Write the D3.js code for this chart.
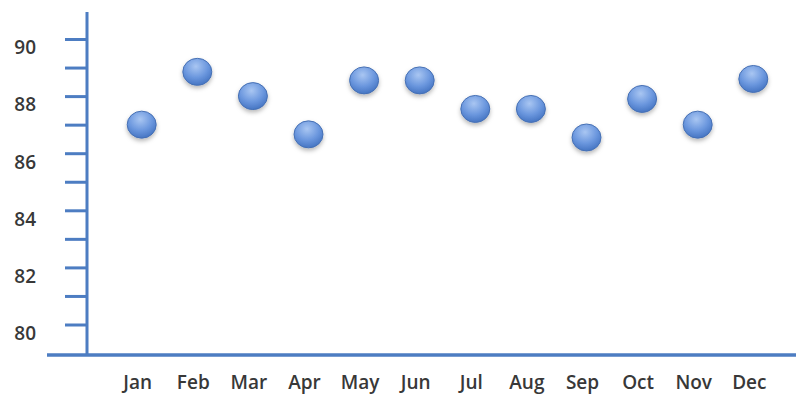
<!DOCTYPE html>
<html>
<head>
<meta charset="utf-8">
<script src="https://cdn.jsdelivr.net/npm/d3@7"></script>
<style>
  html, body { margin: 0; padding: 0; background: #fff; }
  svg { display: block; }
  .lbl { font-family: "Open Sans", sans-serif; font-weight: 600; font-size: 19px; fill: #383838; }
</style>
</head>
<body>
<svg id="chart" width="796" height="395"></svg>
<script>
// Monthly readings
const months = ["Jan", "Feb", "Mar", "Apr", "May", "Jun", "Jul", "Aug", "Sep", "Oct", "Nov", "Dec"];
const values = [87.0, 88.85, 88.0, 86.66, 88.55, 88.55, 87.55, 87.55, 86.55, 87.9, 87.0, 88.6];
const yTicks = [80, 81, 82, 83, 84, 85, 86, 87, 88, 89, 90];
const yLabels = [80, 82, 84, 86, 88, 90];

const W = 796, H = 395;
const axisX = 87, axisY = 355, axisTop = 12;
const blue = "#4d7dc2";

const svg = d3.select("#chart");

const x = d3.scalePoint().domain(months).range([141.7, 753.3]);
const y = d3.scaleLinear().domain([80, 90]).range([324.5, 39]);

// dot fill and shadow
const defs = svg.append("defs");
const grad = defs.append("radialGradient")
  .attr("id", "dotFill").attr("cx", "45%").attr("cy", "30%").attr("r", "75%");
grad.append("stop").attr("offset", "0%").attr("stop-color", "#a9c6f2");
grad.append("stop").attr("offset", "55%").attr("stop-color", "#6b97de");
grad.append("stop").attr("offset", "100%").attr("stop-color", "#3f6fbe");
const shadow = defs.append("filter").attr("id", "dotShadow")
  .attr("x", "-50%").attr("y", "-50%").attr("width", "200%").attr("height", "200%");
shadow.append("feDropShadow").attr("dx", 0).attr("dy", 2.5).attr("stdDeviation", 2)
  .attr("flood-color", "#000").attr("flood-opacity", 0.28);

// y axis with a tick per unit, labels on even values
const yAxis = d3.axisLeft(y)
  .tickValues(yTicks)
  .tickSize(22)
  .tickPadding(29)
  .tickFormat(d => yLabels.includes(d) ? d : "");

const gy = svg.append("g").attr("transform", `translate(${axisX},0)`).call(yAxis);
gy.select(".domain").remove();
gy.selectAll(".tick line").attr("stroke", blue).attr("stroke-width", 3);
gy.selectAll(".tick text")
  .attr("class", "lbl")
  .attr("dy", "0.78em")
  .attr("y", 0)
  .style("font-size", "19px");

// axis lines
svg.append("line")
  .attr("x1", axisX).attr("x2", axisX)
  .attr("y1", axisTop).attr("y2", axisY)
  .attr("stroke", blue).attr("stroke-width", 3);
svg.append("line")
  .attr("x1", 47).attr("x2", W)
  .attr("y1", axisY).attr("y2", axisY)
  .attr("stroke", blue).attr("stroke-width", 3.5);

// month labels
svg.append("g").selectAll("text")
  .data(months)
  .join("text")
  .attr("class", "lbl")
  .attr("x", d => x(d) - 4)
  .attr("y", 389)
  .attr("text-anchor", "middle")
  .text(d => d);

// points
svg.append("g").selectAll("ellipse")
  .data(months.map((m, i) => ({ m, v: values[i] })))
  .join("ellipse")
  .attr("cx", d => x(d.m))
  .attr("cy", d => y(d.v))
  .attr("rx", 14.5)
  .attr("ry", 13.5)
  .attr("fill", "url(#dotFill)")
  .attr("stroke", "#4670b4")
  .attr("stroke-width", 1)
  .attr("filter", "url(#dotShadow)");
</script>
</body>
</html>
